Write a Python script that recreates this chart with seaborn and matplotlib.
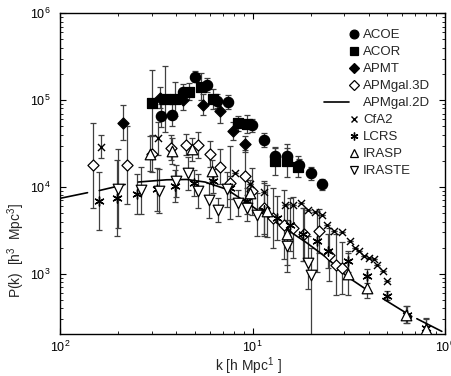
import numpy as np
import pandas as pd
import matplotlib
matplotlib.use("Agg")
import matplotlib.pyplot as plt
import seaborn as sns
from matplotlib.lines import Line2D
from matplotlib.legend_handler import HandlerLine2D
from matplotlib.ticker import FixedLocator, FixedFormatter, LogLocator, NullFormatter

# ---------------- data ----------------
acoe_k = [0.0335, 0.038, 0.0434, 0.0503, 0.0578, 0.0652, 0.0749, 0.0998, 0.114, 0.131, 0.1505, 0.174, 0.200, 0.229]
acoe_p = [6.6e4, 6.7e4, 1.23e5, 1.86e5, 1.5e5, 9.8e4, 9.4e4, 5.1e4, 3.5e4, 2.28e4, 2.28e4, 1.78e4, 1.43e4, 1.07e4]
acoe_d = [0.13, 0.13, 0.09, 0.06, 0.08, 0.08, 0.08, 0.07, 0.08, 0.09, 0.09, 0.07, 0.07, 0.06]

acor_k = [0.0299, 0.0351, 0.0396, 0.047, 0.054, 0.0626, 0.0844, 0.0933, 0.131, 0.1505, 0.1717]
acor_p = [9.2e4, 1.03e5, 1.03e5, 1.25e5, 1.43e5, 1.03e5, 5.4e4, 5.3e4, 2.0e4, 2.0e4, 1.72e4]
acor_d = [0.38, 0.38, 0.2, 0.1, 0.16, 0.12, 0.09, 0.1, 0.16, 0.19, 0.12]

apmt_k = [0.0212, 0.0331, 0.0437, 0.0555, 0.0678, 0.0795, 0.0914]
apmt_p = [5.5e4, 1.07e5, 1.0e5, 8.8e4, 7.4e4, 4.4e4, 3.1e4]
apmt_d = [0.2, 0.12, 0.12, 0.12, 0.13, 0.1, 0.09]

apm3d_k = [0.0149, 0.0224, 0.0299, 0.0376, 0.0451, 0.0523, 0.0602, 0.0678, 0.0764, 0.0914,
           0.0998, 0.114, 0.128, 0.145, 0.163, 0.184, 0.220, 0.250, 0.270, 0.290]
apm3d_p = [1.78e4, 1.78e4, 2.42e4, 2.84e4, 3.05e4, 3.05e4, 2.38e4, 1.72e4, 1.12e4, 1.34e4,
           8.9e3, 5.8e3, 4.4e3, 3.7e3, 3.4e3, 2.84e3, 3.1e3, 1.67e3, 1.28e3, 1.17e3]
apm3d_d = [0.49, 0.45, 0.21, 0.14, 0.12, 0.15, 0.15, 0.2, 0.42, 0.3,
           0.27, 0.3, 0.35, 0.4, 0.35, 0.3, 0.25, 0.3, 0.35, 0.3]

apm2d_k = [0.0100, 0.0139, 0.0160, 0.0218, 0.0255, 0.0358, 0.0455, 0.0567, 0.0734, 0.0933,
           0.1185, 0.1505, 0.191, 0.243, 0.308, 0.416, 0.4745, 0.671, 0.713, 0.961]
apm2d_p = [7.4e3, 8.6e3, 9.1e3, 1.07e4, 1.14e4, 1.21e4, 1.22e4, 1.14e4, 9.4e3, 6.6e3,
           4.6e3, 3.25e3, 2.28e3, 1.53e3, 9.4e2, 6.0e2, 5.2e2, 3.24e2, 3.05e2, 2.18e2]
apm2d_seg = [0, 0, 1, 1, 2, 2, 2, 2, 2, 2, 2, 2, 2, 2, 2, 2, 3, 3, 4, 4]

cfa_k = [0.0163, 0.0324, 0.0811, 0.097, 0.114, 0.1475, 0.163, 0.179, 0.195, 0.2115, 0.229, 0.243,
         0.266, 0.290, 0.321, 0.340, 0.359, 0.380, 0.403, 0.426, 0.442, 0.475, 0.502]
cfa_p = [2.92e4, 3.64e4, 1.46e4, 1.09e4, 8.8e3, 6.2e3, 6.2e3, 6.6e3, 5.5e3, 5.1e3, 4.7e3, 3.7e3,
         3.1e3, 3.05e3, 2.38e3, 2.0e3, 1.83e3, 1.6e3, 1.53e3, 1.48e3, 1.25e3, 1.07e3, 8.2e2]
cfa_d = [0.13, 0.19] + [0.0] * 21

lcrs_k = [0.016, 0.0197, 0.025, 0.0318, 0.0396, 0.0494, 0.0626, 0.0764, 0.0933, 0.114,
          0.1335, 0.1566, 0.1837, 0.2154, 0.245, 0.3147, 0.3945, 0.5016, 0.632, 0.797]
lcrs_p = [6.9e3, 7.5e3, 8.2e3, 9.4e3, 1.03e4, 1.12e4, 1.17e4, 9.8e3, 6.9e3, 5.5e3,
          4.4e3, 3.7e3, 2.84e3, 2.38e3, 1.83e3, 1.40e3, 9.4e2, 5.6e2, 3.4e2, 2.38e2]
lcrs_d = [0.33, 0.44, 0.23, 0.25, 0.18, 0.15, 0.14, 0.13, 0.15, 0.3,
          0.25, 0.3, 0.3, 0.35, 0.2, 0.12, 0.08, 0.05, 0.1, 0.12]

irasp_k = [0.0293, 0.038, 0.0483, 0.0614, 0.097, 0.1185, 0.1505, 0.3147, 0.3918, 0.628, 0.797]
irasp_p = [2.42e4, 2.6e4, 2.72e4, 1.53e4, 8.6e3, 5.3e3, 2.84e3, 1.0e3, 6.9e2, 3.4e2, 2.3e2]
irasp_d = [0.2, 0.15, 0.13, 0.12, 0.15, 0.3, 0.35, 0.24, 0.12, 0.1, 0.12]

iraste_k = [0.0201, 0.0262, 0.0328, 0.0400, 0.0464, 0.0523, 0.0597, 0.0665, 0.0734, 0.0844,
            0.0933, 0.105, 0.1505, 0.195, 0.2005]
iraste_p = [9.6e3, 9.2e3, 9.0e3, 1.17e4, 1.43e4, 9.0e3, 7.0e3, 5.4e3, 9.4e3, 6.6e3,
            5.7e3, 4.8e3, 2.1e3, 1.35e3, 9.8e2]
iraste_dlo = [0.45, 0.27, 0.25, 0.18, 0.19, 0.2, 0.2, 0.14, 0.2, 0.15, 0.15, 0.25, 0.3, 0.3, 3.0]
iraste_dhi = [0.45, 0.27, 0.25, 0.18, 0.19, 0.2, 0.2, 0.14, 0.2, 0.15, 0.15, 0.25, 0.3, 0.3, 0.31]

x_ticks = [0.01, 0.1, 1.0]
x_ticklabels = ["$10^{2}$", "$10^{1}$", "$10^{0}$"]
y_ticks = [1e3, 1e4, 1e5, 1e6]
y_ticklabels = ["$10^{3}$", "$10^{4}$", "$10^{5}$", "$10^{6}$"]

# ---------------- style ----------------
sns.set_theme(style="ticks")
plt.rcParams['font.family'] = ['Liberation Sans', 'DejaVu Sans']
plt.rcParams['mathtext.default'] = 'regular'

fig = plt.figure(figsize=(4.51, 3.76), dpi=100)
ax = fig.add_axes([0.133, 0.112, 0.854, 0.853])
ax.set_xscale('log')
ax.set_yscale('log')

ASTER = (6, 2, 0)
series = [
    # name, k, p, dlo, dhi, marker, face, size
    ("ACOE", acoe_k, acoe_p, acoe_d, acoe_d, 'o', 'black', 55),
    ("ACOR", acor_k, acor_p, acor_d, acor_d, 's', 'black', 42),
    ("APMT", apmt_k, apmt_p, apmt_d, apmt_d, 'D', 'black', 32),
    ("APMgal.3D", apm3d_k, apm3d_p, apm3d_d, apm3d_d, 'D', 'white', 32),
    ("CfA2", cfa_k, cfa_p, cfa_d, cfa_d, 'x', 'black', 26),
    ("LCRS", lcrs_k, lcrs_p, lcrs_d, lcrs_d, ASTER, 'black', 44),
    ("IRASP", irasp_k, irasp_p, irasp_d, irasp_d, '^', 'white', 58),
    ("IRASTE", iraste_k, iraste_p, iraste_dlo, iraste_dhi, 'v', 'white', 58),
]

for name, k, p, dlo, dhi, m, fc, s in series:
    k = np.asarray(k); p = np.asarray(p)
    lo = p * (1 - 10 ** (-np.asarray(dlo)))
    hi = p * (10 ** np.asarray(dhi) - 1)
    ax.errorbar(k, p, yerr=[lo, hi], fmt='none', ecolor='0.25', elinewidth=0.9,
                capsize=2.2, capthick=0.9, zorder=1)

line_df = pd.DataFrame({"k": apm2d_k, "P": apm2d_p, "seg": apm2d_seg})
sns.lineplot(data=line_df, x="k", y="P", units="seg", estimator=None, color='black',
             linewidth=1.2, ax=ax, zorder=2)

for name, k, p, dlo, dhi, m, fc, s in series:
    df = pd.DataFrame({"k": k, "P": p})
    if m in ('x', ASTER):
        sns.scatterplot(data=df, x="k", y="P", marker=m, s=s, color='black',
                        linewidth=1.0, ax=ax, zorder=3)
    else:
        sns.scatterplot(data=df, x="k", y="P", marker=m, s=s, color=fc,
                        edgecolor='black', linewidth=0.9, ax=ax, zorder=3)

ax.set_xlim(0.01, 1.0)
ax.set_ylim(204, 1e6)
ax.xaxis.set_major_locator(FixedLocator(x_ticks))
ax.xaxis.set_major_formatter(FixedFormatter(x_ticklabels))
ax.xaxis.set_minor_locator(LogLocator(base=10, subs=np.arange(2, 10)))
ax.xaxis.set_minor_formatter(NullFormatter())
ax.yaxis.set_major_locator(FixedLocator(y_ticks))
ax.yaxis.set_major_formatter(FixedFormatter(y_ticklabels))
ax.yaxis.set_minor_locator(LogLocator(base=10, subs=np.arange(2, 10)))
ax.yaxis.set_minor_formatter(NullFormatter())
ax.tick_params(which='both', direction='in', top=True, right=True, colors='black', labelsize=9)
ax.tick_params(which='major', length=4, width=0.8)
ax.tick_params(which='minor', length=2, width=0.6)
ax.tick_params(axis='y', which='major', pad=7)
ax.tick_params(axis='x', which='major', pad=4)
for sp in ax.spines.values():
    sp.set_linewidth(1.0)
    sp.set_color('black')

ax.set_xlabel("k [h Mpc$^{1}$ ]", fontsize=10)
ax.set_ylabel("P(k)  [h$^{3}$  Mpc$^{3}$]", fontsize=10)
ax.xaxis.set_label_coords(0.49, -0.066)
ax.yaxis.set_label_coords(-0.086, 0.26)

class LongLine(HandlerLine2D):
    def create_artists(self, legend, orig_handle, xdescent, ydescent, width, height, fontsize, trans):
        ln = Line2D([-xdescent - 1.8 * width, -xdescent + 0.15 * width],
                    [height / 2.0 - ydescent] * 2, color='black', lw=1.2)
        ln.set_transform(trans)
        return [ln]

handles = []
labels = []
for name, k, p, dlo, dhi, m, fc, s in series:
    if m in ('x', ASTER):
        h = Line2D([], [], linestyle='none', marker=m, markersize=np.sqrt(s) * 0.85,
                   color='black', markeredgewidth=1.0)
    else:
        h = Line2D([], [], linestyle='none', marker=m, markersize=np.sqrt(s) * 0.85,
                   markerfacecolor=fc, markeredgecolor='black', markeredgewidth=0.9)
    handles.append(h); labels.append(name)
line_h = Line2D([], [], color='black', lw=1.2)
handles.insert(4, line_h); labels.insert(4, "APMgal.2D")

leg = ax.legend(handles, labels, loc='upper right', bbox_to_anchor=(0.982, 0.975),
                frameon=False, fontsize=9.5, handlelength=1.0, handletextpad=0.2,
                labelspacing=0.36, borderaxespad=0.2, handler_map={line_h: LongLine()})

fig.savefig("out.png", dpi=100)
